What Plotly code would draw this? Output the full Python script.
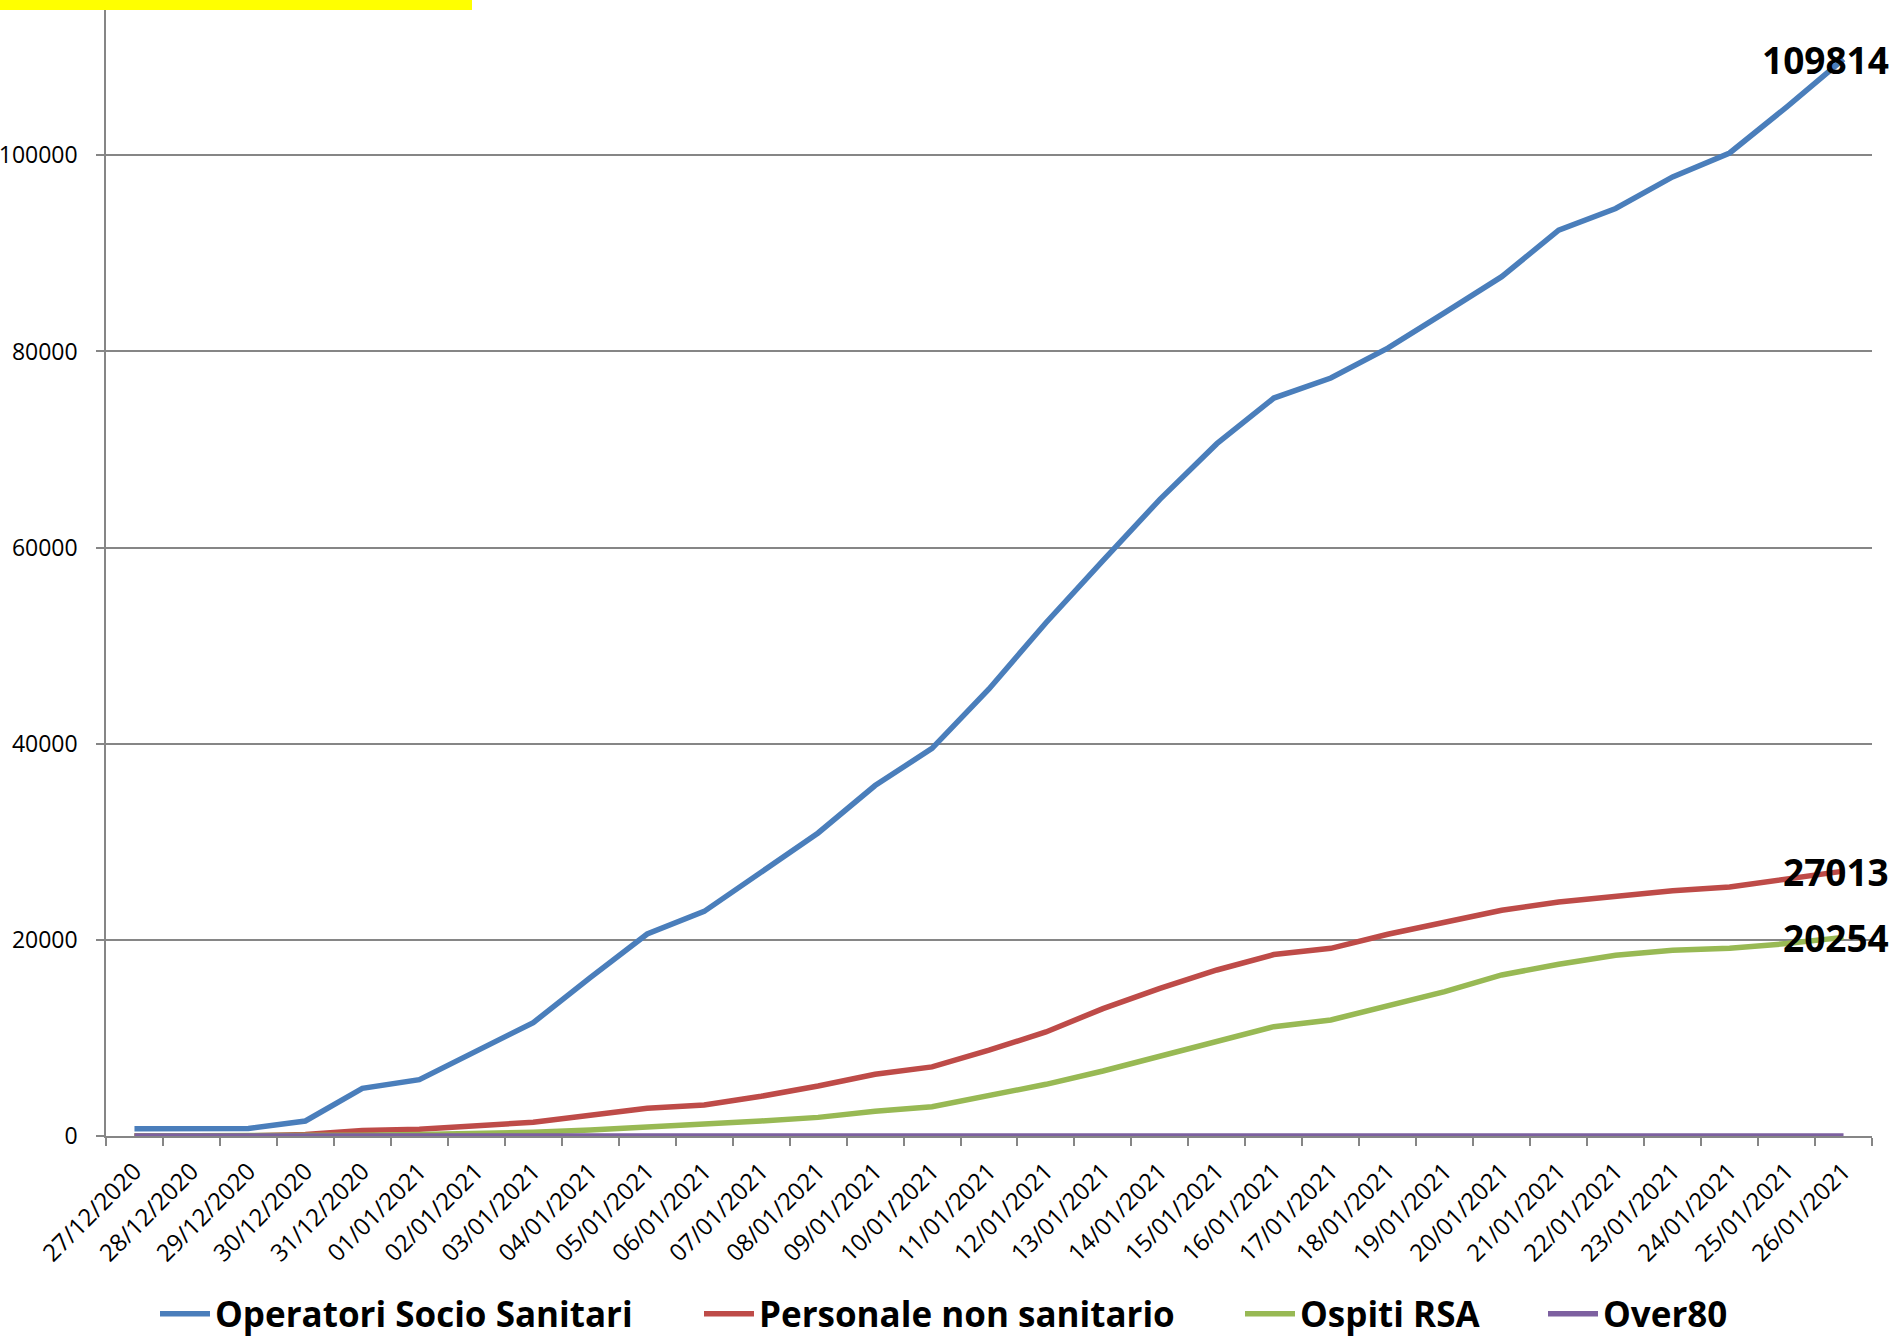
import plotly.graph_objects as go

dates = ["27/12/2020", "28/12/2020", "29/12/2020", "30/12/2020", "31/12/2020",
         "01/01/2021", "02/01/2021", "03/01/2021", "04/01/2021", "05/01/2021",
         "06/01/2021", "07/01/2021", "08/01/2021", "09/01/2021", "10/01/2021",
         "11/01/2021", "12/01/2021", "13/01/2021", "14/01/2021", "15/01/2021",
         "16/01/2021", "17/01/2021", "18/01/2021", "19/01/2021", "20/01/2021",
         "21/01/2021", "22/01/2021", "23/01/2021", "24/01/2021", "25/01/2021",
         "26/01/2021"]

operatori = [750, 750, 760, 1530, 4860, 5750, 8670, 11560, 16150, 20600,
             22900, 26900, 30900, 35740, 39530, 45590, 52340, 58670, 64920, 70600,
             75250, 77290, 80340, 83970, 87630, 92370, 94580, 97800, 100240, 104920,
             109814]
personale = [0, 0, 0, 150, 560, 700, 1090, 1400, 2110, 2820,
             3160, 4050, 5100, 6290, 7050, 8750, 10610, 12990, 15060, 16930,
             18500, 19140, 20570, 21830, 23020, 23870, 24480, 25020, 25400, 26250,
             27013]
ospiti = [0, 0, 0, 0, 80, 160, 260, 380, 610, 880,
          1220, 1530, 1900, 2520, 2990, 4200, 5270, 6630, 8160, 9760,
          11150, 11830, 13260, 14720, 16420, 17510, 18430, 18940, 19140, 19620,
          20254]
over80 = [0] * len(dates)

series_names = ["Operatori Socio Sanitari", "Personale non sanitario", "Ospiti RSA", "Over80"]
series_values = [operatori, personale, ospiti, over80]
series_colors = ["#4A7EBB", "#BE4B48", "#98B954", "#7D60A0"]
labelled = [0, 1, 2]

y_ticks = [0, 20000, 40000, 60000, 80000, 100000]

W, H = 1893, 1340
L, R, T, B = 106, 21, 10, 204
pw = W - L - R
ph = H - T - B

# left edge (px) of each legend entry, and vertical centre of the legend row
legend_left = [155, 699, 1240, 1543]
legend_mid = 1314
legend_ids = ["legend", "legend2", "legend3", "legend4"]

fig = go.Figure()
for name, vals, col, lid in zip(series_names, series_values, series_colors, legend_ids):
    fig.add_trace(go.Scatter(x=dates, y=vals, name=name, mode="lines",
                             line=dict(color=col, width=5.5), legend=lid))

for i in labelled:
    fig.add_annotation(xref="paper", yref="y", x=(W - 2 - L) / pw, y=series_values[i][-1],
                       text=str(series_values[i][-1]), showarrow=False,
                       xanchor="right", yanchor="middle",
                       font=dict(family="Open Sans", size=37, color="black", weight="bold"))

# yellow strip at top-left
fig.add_shape(type="rect", xref="paper", yref="paper",
              x0=-L / pw, x1=(472 - L) / pw, y0=1, y1=1 + T / ph,
              fillcolor="#FFFF00", line=dict(width=0), layer="above")

grid = "#868686"
legend_common = dict(orientation="h", xanchor="left", xref="container", yref="container",
                     y=1 - legend_mid / H, yanchor="middle",
                     font=dict(family="Open Sans", size=35, color="black", weight="bold"),
                     itemwidth=50, bgcolor="rgba(0,0,0,0)")
legend_layout = {lid: dict(legend_common, x=lx / W)
                 for lid, lx in zip(legend_ids, legend_left)}

fig.update_layout(
    width=W, height=H,
    margin=dict(l=L, r=R, t=T, b=B, autoexpand=False),
    paper_bgcolor="white", plot_bgcolor="white",
    font=dict(family="Open Sans", size=23, color="black"),
    showlegend=True,
    xaxis=dict(type="category", range=[-0.5, len(dates) - 0.5], automargin=False,
               showgrid=False, showline=True, linecolor=grid, linewidth=1.5,
               ticks="outside", ticklen=8, tickcolor=grid, tickwidth=1.5,
               tickson="boundaries", tickangle=-45, ticklabelstandoff=10,
               tickfont=dict(family="Open Sans", size=24, color="black"),
               zeroline=False, fixedrange=True, layer="below traces"),
    yaxis=dict(range=[0, 100000 + (155.4 - T) / 196.2 * 20000], automargin=False,
               tickvals=y_ticks, ticktext=[str(v) for v in y_ticks],
               showgrid=True, gridcolor=grid, gridwidth=1.5,
               showline=True, linecolor=grid, linewidth=1.5,
               ticks="outside", ticklen=8, tickcolor=grid, tickwidth=1.5,
               ticklabelstandoff=14,
               tickfont=dict(family="Open Sans", size=23, color="black"),
               zeroline=False, fixedrange=True, layer="below traces"),
    **legend_layout,
)

fig.write_html("out.html", config={"displayModeBar": False},
               post_script="document.body.style.margin='0px';"
                           "document.body.style.overflow='hidden';")
